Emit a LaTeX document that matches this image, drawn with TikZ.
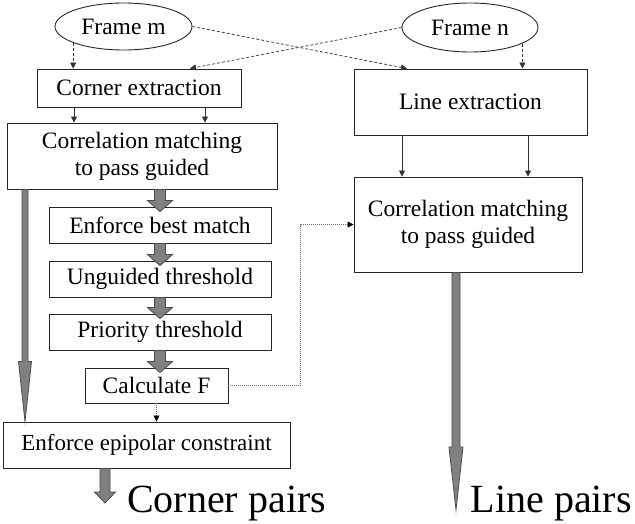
\documentclass[tikz,border=0pt]{standalone}
\usepackage{fontspec}
\setmainfont{Liberation Serif}
\usetikzlibrary{calc,shapes.geometric,arrows.meta}

% vertical block arrow: start, tip, shaft half width, head half width, head length
\newcommand\fatarrow[5]{%
  \draw[blockarrow] let \p1=(#1), \p2=(#2) in
    (\x1-#3,\y1) -- (\x1-#3,\y2+#5) -- (\x1-#4,\y2+#5) -- (\x1,\y2)
    -- (\x1+#4,\y2+#5) -- (\x1+#3,\y2+#5) -- (\x1+#3,\y1) -- cycle;}

\tikzset{
  boxtext/.style={font=\fontsize{23.5}{27}\selectfont, align=center, inner sep=0pt},
  procbox/.style={boxtext, draw=black!85, line width=0.9pt, rectangle},
  framenode/.style={boxtext, draw=black!85, line width=0.9pt, ellipse},
  smalltip/.style={-{Triangle[length=6pt,width=6pt]}},
  dashlink/.style={smalltip, draw=black!80, line width=0.7pt, dash pattern=on 3pt off 2pt},
  solidlink/.style={smalltip, draw=black!80, line width=0.8pt},
  dotlink/.style={draw=black!55, line width=0.7pt, dash pattern=on 1pt off 1pt,
    -{Triangle[length=6pt,width=6pt,color=black]}},
  blockarrow/.style={fill=black!50, draw=black!70, line width=0.8pt, line join=miter},
  biglabel/.style={font=\fontsize{40}{44}\selectfont, inner sep=0pt},
}

\begin{document}
\begin{tikzpicture}[x=1pt, y=-1pt]
  \fill[white] (0,0) rectangle (635,524);
  \useasboundingbox (0,0) rectangle (635,524);

  % input frames
  \node[framenode, minimum width=137pt, minimum height=47pt] (fm) at (123.5,26.5) {Frame m};
  \node[framenode, minimum width=136pt, minimum height=49pt] (fn) at (470,27.5) {Frame n};

  % corner branch
  \node[procbox, minimum width=204pt, minimum height=38pt] (ce) at (139,88) {Corner extraction};
  \node[procbox, minimum width=270pt, minimum height=66pt] (cl) at (142,156) {Correlation matching\\to pass guided};
  \node[procbox, minimum width=222pt, minimum height=36pt] (ebm) at (160,225) {Enforce best match};
  \node[procbox, minimum width=222pt, minimum height=36pt] (ung) at (160,279) {Unguided threshold};
  \node[procbox, minimum width=222pt, minimum height=36pt] (pri) at (160,332) {Priority threshold};
  \node[procbox, minimum width=143pt, minimum height=35pt] (cf) at (156.5,385.5) {Calculate F};
  \node[procbox, minimum width=287pt, minimum height=46pt, font=\fontsize{23}{27}\selectfont] (epi) at (146.5,445) {Enforce epipolar constraint};

  % line branch
  \node[procbox, minimum width=233pt, minimum height=66pt] (le) at (470.5,102) {Line extraction};
  \node[procbox, minimum width=228pt, minimum height=95pt] (cr) at (468,224.5) {Correlation matching\\to pass guided};

  % outputs
  \node[biglabel, anchor=base west] (cp) at (127,512) {Corner pairs};
  \node[biglabel, anchor=base east] (lp) at (632,512) {Line pairs};

  % frames feeding the extractors
  \draw[dashlink] (fm.198) -- (fm.198 |- ce.north);
  \draw[dashlink] (fn.-17) -- (fn.-17 |- le.north);
  \draw[dashlink] (fm.east) -- ([xshift=-63.5pt]le.north);
  \draw[dashlink] (fn.west) -- ([xshift=51pt]ce.north);

  % extractors to matching
  \draw[solidlink] ([xshift=-65pt]ce.south) -- ([xshift=-65pt]ce.south |- cl.north);
  \draw[solidlink] ([xshift=66pt]ce.south) -- ([xshift=66pt]ce.south |- cl.north);
  \draw[solidlink] ([xshift=-68.5pt]le.south) -- ([xshift=-68.5pt]le.south |- cr.north);
  \draw[solidlink] ([xshift=57.5pt]le.south) -- ([xshift=57.5pt]le.south |- cr.north);

  % fundamental matrix feedback
  \draw[dotlink] (cf.south) -- (cf.south |- epi.north);
  \draw[dotlink] (cf.east) -- ++(72pt,0) |- (cr.west);

  % block arrows of the corner chain
  \fatarrow{cl.south -| ebm.north}{[yshift=-5pt]ebm.north}{5.5pt}{12.5pt}{11pt}
  \fatarrow{ebm.south -| ebm.north}{[yshift=-5pt]ung.north}{5.5pt}{12.5pt}{11pt}
  \fatarrow{ung.south -| ung.north}{[yshift=-5pt]pri.north}{5.5pt}{12.5pt}{11pt}
  \fatarrow{pri.south -| ebm.north}{[yshift=-5pt]ebm.north |- cf.north}{5.5pt}{12.5pt}{11pt}

  % long bypass arrows and outputs
  \coordinate (lx) at (25,0);
  \coordinate (linetip) at (456,510);
  \coordinate (cornertip) at (105,503);
  \fatarrow{cl.south -| lx}{epi.north -| lx}{3pt}{6.5pt}{60pt}
  \fatarrow{cr.south -| linetip}{linetip}{4pt}{7pt}{63pt}
  \fatarrow{epi.south -| cornertip}{cornertip}{5pt}{10.5pt}{11pt}
\end{tikzpicture}
\end{document}
